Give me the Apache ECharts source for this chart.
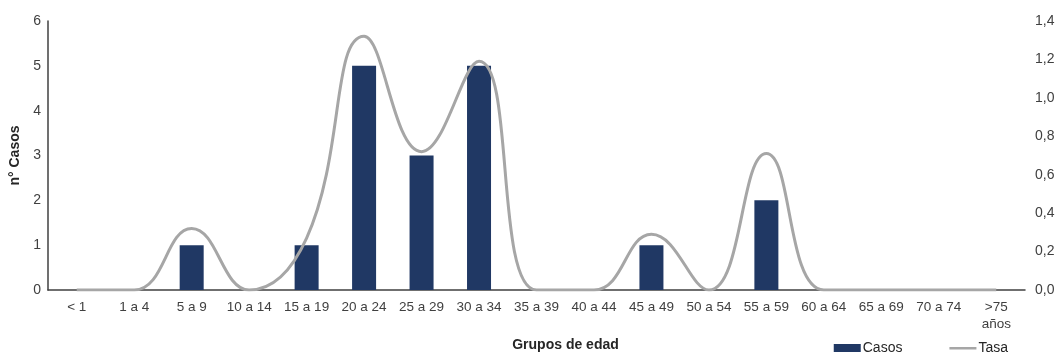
<!DOCTYPE html>
<html><head><meta charset="utf-8">
<script src="https://cdn.jsdelivr.net/npm/echarts@6/dist/echarts.min.js"></script>
<style>html,body{margin:0;padding:0;background:#fff}#c{width:1058px;height:354px}</style>
</head><body><div id="c"></div>
<script>
const categories = ['< 1','1 a 4','5 a 9','10 a 14','15 a 19','20 a 24','25 a 29','30 a 34','35 a 39','40 a 44','45 a 49','50 a 54','55 a 59','60 a 64','65 a 69','70 a 74','>75\naños'];
const casos = [0,0,1,0,1,5,3,5,0,0,1,0,2,0,0,0,0];
const tasa = [0,0,0.32,0,0.27,1.32,0.72,1.19,0,0,0.29,0,0.71,0,0,0,0];
const leftTicks = {min:0,max:6,interval:1};
const rightTicks = {min:0,max:1.4,interval:0.2};

const chart = echarts.init(document.getElementById('c'));
const font = 'Liberation Sans, Arial, sans-serif';
const lineIcon = 'path://M0,0L0.01,0L0,0.01Z M0,3L28,3L28,5.5L0,5.5Z M28,8L27.99,8L28,7.99Z';
chart.setOption({
  animation:false,
  textStyle:{fontFamily:font},
  grid:{left:48,right:33,top:21,bottom:64,outerBoundsMode:'none',containLabel:false},
  legend:{
    right:50, top:341, itemGap:47, itemHeight:8, itemWidth:27, padding:0,
    textStyle:{fontFamily:font,fontSize:14,color:'#262626',padding:[0,0,0,-3]},
    data:[{name:'Casos',icon:'rect'},{name:'Tasa',icon:lineIcon,itemStyle:{color:'#A6A6A6'}}]
  },
  xAxis:{
    type:'category', data:categories,
    name:'Grupos de edad', nameLocation:'middle', nameGap:46,
    nameTextStyle:{fontFamily:font,fontSize:14,fontWeight:'bold',color:'#262626',padding:[0,0,0,58]},
    axisLine:{lineStyle:{color:'#404040',width:1.5}},
    axisTick:{show:false},
    axisLabel:{interval:0,fontSize:13.5,color:'#404040',margin:9,lineHeight:17}
  },
  yAxis:[{
    type:'value', min:leftTicks.min, max:leftTicks.max, interval:leftTicks.interval,
    name:'n° Casos', nameLocation:'middle', nameGap:25, nameRotate:90,
    nameTextStyle:{fontFamily:font,fontSize:14,fontWeight:'bold',color:'#262626'},
    axisLine:{show:true,lineStyle:{color:'#404040',width:1.5}},
    axisTick:{show:false}, splitLine:{show:false},
    axisLabel:{fontSize:14,color:'#404040',margin:7}
  },{
    type:'value', min:rightTicks.min, max:rightTicks.max, interval:rightTicks.interval,
    position:'right',
    axisLine:{show:false}, axisTick:{show:false}, splitLine:{show:false},
    axisLabel:{fontSize:14,color:'#404040',margin:10,
      formatter:v=>v.toFixed(1).replace('.',',')}
  }],
  series:[{
    name:'Casos', type:'bar', data:casos, barWidth:24, yAxisIndex:0,
    itemStyle:{color:'#203864'}
  },{
    name:'Tasa', type:'line', data:tasa, yAxisIndex:1, smooth:0.45,
    symbol:'none', lineStyle:{color:'#A6A6A6',width:3}, itemStyle:{color:'#A6A6A6'}
  }]
});
</script></body></html>
